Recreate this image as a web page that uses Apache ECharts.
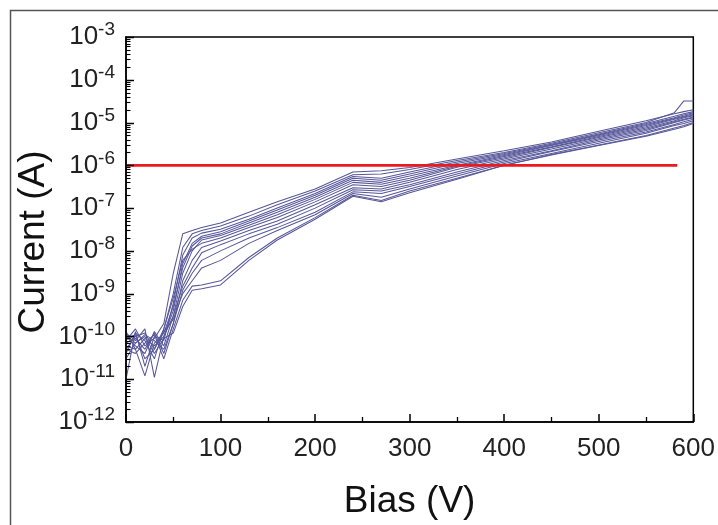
<!DOCTYPE html>
<html>
<head>
<meta charset="utf-8">
<script src="https://cdn.jsdelivr.net/npm/echarts@6/dist/echarts.min.js"></script>
<style>
html,body{margin:0;padding:0;background:#fff;}
#chart{width:718px;height:525px;}
</style>
</head>
<body>
<div id="chart"></div>
<script>
// Bias values (V) shared by all curves
const biasV = [0,10,20,30,40,50,60,70,80,100,130,160,200,240,270,300,350,400,450,500,550,580,590,600];

// Current (A) curves
const curve01 = [8e-11,1.5e-10,6e-11,9e-11,2e-10,3e-9,2.5e-8,3e-8,3.5e-8,4.5e-8,8e-8,1.4e-7,2.8e-7,7e-7,7.5e-7,8.9e-7,1.4e-6,2.2e-6,3.5e-6,6.3e-6,1.1e-5,1.6e-5,1.8e-5,2e-5];
const curve02 = [5e-11,1e-10,1.2e-10,5e-11,1.5e-10,1e-9,1.2e-8,2.5e-8,3e-8,3.8e-8,6.5e-8,1.2e-7,2.5e-7,6e-7,6.3e-7,8e-7,1.3e-6,2e-6,3.3e-6,5.8e-6,1e-5,1.7e-5,3.2e-5,3.2e-5];
const curve03 = [1e-11,1.3e-10,2e-11,1e-10,8e-11,6e-10,8e-9,2e-8,2.6e-8,3.2e-8,5.5e-8,1e-7,2.2e-7,5.5e-7,5e-7,7e-7,1.2e-6,1.9e-6,3.1e-6,5.4e-6,9.5e-6,1.4e-5,1.6e-5,1.8e-5];
const curve04 = [1.2e-10,8e-11,1.5e-10,1.1e-11,1e-10,4e-10,5e-9,1.5e-8,2.2e-8,2.8e-8,5e-8,9e-8,2e-7,5e-7,4.5e-7,6.3e-7,1.1e-6,1.8e-6,3e-6,5.2e-6,9e-6,1.3e-5,1.5e-5,1.7e-5];
const curve05 = [6e-11,5e-11,1.2e-11,7e-11,1.2e-10,5e-10,4e-9,1.3e-8,2e-8,2.5e-8,4.5e-8,8e-8,1.8e-7,4.5e-7,4e-7,5.6e-7,1e-6,1.7e-6,2.9e-6,5e-6,8.5e-6,1.25e-5,1.4e-5,1.6e-5];
const curve06 = [1e-10,6e-11,4e-11,1.3e-10,6e-11,3e-10,3e-9,1e-8,1.8e-8,2.3e-8,4e-8,7e-8,1.6e-7,4e-7,3.6e-7,5e-7,9.5e-7,1.6e-6,2.7e-6,4.7e-6,8e-6,1.2e-5,1.35e-5,1.5e-5];
const curve07 = [4e-11,1.2e-10,8e-11,3e-11,1.5e-10,8e-10,6e-9,1.1e-8,1.5e-8,2e-8,3.5e-8,6e-8,1.4e-7,3.5e-7,3.2e-7,4.5e-7,9e-7,1.5e-6,2.6e-6,4.5e-6,7.5e-6,1.1e-5,1.3e-5,1.45e-5];
const curve08 = [7e-11,9e-11,5e-11,1.2e-10,4e-11,2e-10,2e-9,6e-9,1.2e-8,1.7e-8,3e-8,5e-8,1.2e-7,3e-7,2.8e-7,4e-7,8e-7,1.4e-6,2.4e-6,4.2e-6,7e-6,1.05e-5,1.2e-5,1.35e-5];
const curve09 = [1.3e-10,5e-11,9e-11,6e-11,1e-10,3e-10,1.5e-9,4e-9,9e-9,1.4e-8,2.5e-8,4.2e-8,1e-7,2.7e-7,2.5e-7,3.5e-7,7e-7,1.3e-6,2.2e-6,3.9e-6,6.5e-6,1e-5,1.15e-5,1.3e-5];
const curve10 = [3e-11,7e-11,1.1e-10,8e-11,5e-11,2e-10,1.2e-9,3e-9,6e-9,1e-8,2e-8,3.5e-8,8e-8,2.4e-7,2.2e-7,3.2e-7,6.3e-7,1.2e-6,2.1e-6,3.6e-6,6e-6,9e-6,1.05e-5,1.2e-5];
const curve11 = [9e-11,1.1e-10,3e-11,5e-11,1.3e-10,2.5e-10,1e-9,2e-9,4e-9,6e-9,1.5e-8,3e-8,7e-8,2.2e-7,1.8e-7,2.8e-7,5.6e-7,1.1e-6,1.9e-6,3.3e-6,5.6e-6,8.5e-6,9.5e-6,1.1e-5];
const curve12 = [5e-11,4e-11,7e-11,1.1e-10,3e-11,1.5e-10,7e-10,1.5e-9,1.6e-9,2e-9,7e-9,2e-8,6e-8,2e-7,1.5e-7,2.5e-7,5e-7,1e-6,1.8e-6,3e-6,5e-6,7.5e-6,8.5e-6,1e-5];
const curve13 = [1.1e-10,7e-11,1e-10,4e-11,9e-11,1.2e-10,5e-10,1.2e-9,1.3e-9,1.6e-9,6e-9,1.8e-8,5.5e-8,1.9e-7,1.4e-7,2.3e-7,4.7e-7,1e-6,1.75e-6,2.9e-6,4.8e-6,7e-6,8e-6,9.5e-6];

// Red reference line
const thresholdBias = [0, 583];
const thresholdCurrent = 1e-6;

// Axis ticks
const xTicks = [0,100,200,300,400,500,600];
const yMajorTicks = [1e-12,1e-11,1e-10,1e-9,1e-8,1e-7,1e-6,1e-5,1e-4,1e-3];
const yMinorMantissas = [2,3,4,5,6,7,8,9];

const curves = [curve01,curve02,curve03,curve04,curve05,curve06,curve07,curve08,curve09,curve10,curve11,curve12,curve13];

// log minor tick values (axis decoration only)
const minorTickValues = [];
yMajorTicks.slice(0, -1).forEach(d => yMinorMantissas.forEach(m => minorTickValues.push(m * d)));

const lineColor = '#57579a';
const series = curves.map((c, k) => ({
  type: 'line',
  name: 'curve' + (k + 1),
  data: biasV.map((x, i) => [x, c[i]]),
  showSymbol: false,
  symbol: 'none',
  lineStyle: { color: lineColor, width: 1.05 },
  silent: true,
  z: 2
}));
series.push({
  type: 'line',
  name: 'threshold',
  data: thresholdBias.map(x => [x, thresholdCurrent]),
  showSymbol: false,
  symbol: 'none',
  lineStyle: { color: '#ea1a20', width: 2.6 },
  silent: true,
  z: 3
});

const yMin = yMajorTicks[0], yMax = yMajorTicks[yMajorTicks.length - 1];

const baseGraphics = [{
  type: 'polyline',
  shape: { points: [[10.5, 525], [10.5, 10.5], [718, 10.5]] },
  style: { stroke: '#555', lineWidth: 1.5, fill: null },
  silent: true
}, {
  type: 'text',
  x: 34, y: 242,
  rotation: Math.PI / 2,
  style: {
    text: 'Current (A)',
    font: '37px "Liberation Sans"',
    fill: '#111',
    textAlign: 'center',
    textVerticalAlign: 'middle'
  },
  silent: true
}];

const chart = echarts.init(document.getElementById('chart'), null, { renderer: 'canvas' });
chart.setOption({
  animation: false,
  backgroundColor: '#fff',
  textStyle: { fontFamily: 'Liberation Sans, Arial, sans-serif' },
  grid: { left: 126, right: 23, top: 37, bottom: 99, show: true, borderColor: '#000', borderWidth: 1.5, backgroundColor: 'transparent' },
  graphic: baseGraphics,
  xAxis: {
    type: 'value',
    min: xTicks[0], max: xTicks[xTicks.length - 1], interval: 100,
    z: 5,
    axisLine: { show: true, onZero: false, lineStyle: { color: '#000', width: 1.5 } },
    axisTick: { show: true, inside: true, length: 8, lineStyle: { color: '#000', width: 1.5 } },
    minorTick: { show: true, splitNumber: 2, length: 5, lineStyle: { color: '#000', width: 1.3 } },
    splitLine: { show: false },
    axisLabel: { color: '#222', fontSize: 26, margin: 14, fontFamily: 'Liberation Sans' },
    name: 'Bias (V)',
    nameLocation: 'middle',
    nameGap: 61,
    nameTextStyle: { color: '#111', fontSize: 37, fontFamily: 'Liberation Sans' }
  },
  yAxis: {
    type: 'log',
    logBase: 10,
    min: yMin, max: yMax,
    z: 5,
    axisLine: { show: true, onZero: false, lineStyle: { color: '#000', width: 1.5 } },
    axisTick: { show: false },
    minorTick: { show: false },
    splitLine: { show: false },
    axisLabel: {
      margin: 11,
      formatter: function (v) {
        const e = Math.round(Math.log10(v));
        return '{b|10}{s|' + e + '}';
      },
      rich: {
        b: { fontSize: 26, color: '#222', fontFamily: 'Liberation Sans' },
        s: { fontSize: 19, color: '#222', fontFamily: 'Liberation Sans', padding: [0, 0, 14, 0] }
      }
    }
  },
  series: series
});

// y-axis tick marks placed through the chart's own log scale
const tickGraphics = [];
const addTick = (v, len, w) => {
  const p = chart.convertToPixel({ xAxisIndex: 0, yAxisIndex: 0 }, [xTicks[0], v]);
  if (!p || !isFinite(p[1])) return;
  const y = Math.round(p[1]) + 0.5;
  tickGraphics.push({
    type: 'line',
    shape: { x1: p[0], y1: y, x2: p[0] + len, y2: y },
    style: { stroke: '#000', lineWidth: w },
    silent: true,
    z: 100
  });
};
yMajorTicks.forEach(v => addTick(v, 8, 1.5));
minorTickValues.forEach(v => addTick(v, 4.5, 1.1));
chart.setOption({ graphic: baseGraphics.concat(tickGraphics) }, { replaceMerge: ['graphic'] });
</script>
</body>
</html>
